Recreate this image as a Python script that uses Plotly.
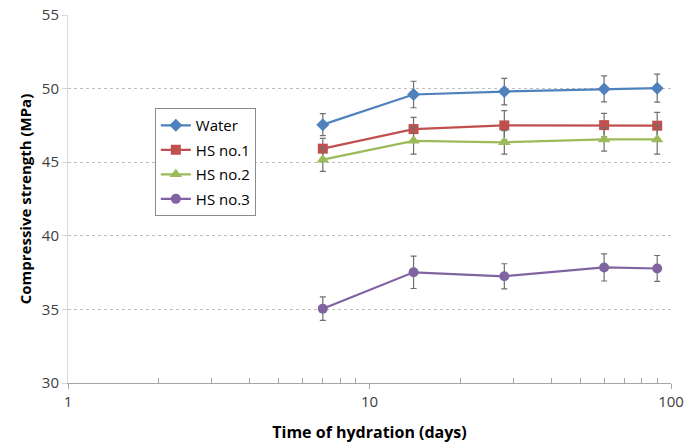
import plotly.graph_objects as go

days = [7, 14, 28, 60, 90]
water = [47.55, 49.6, 49.8, 49.98, 50.03]
hs1 = [45.92, 47.25, 47.5, 47.52, 47.48]
hs2 = [45.17, 46.45, 46.35, 46.55, 46.55]
hs3 = [35.05, 37.52, 37.25, 37.85, 37.78]
water_err = [0.75, 0.9, 0.9, 0.88, 0.95]
hs1_err = [0.7, 0.8, 1.0, 0.8, 0.9]
hs2_err = [0.8, 0.9, 0.8, 0.8, 1.0]
hs3_err = [0.8, 1.1, 0.85, 0.92, 0.88]

names = ["Water", "HS no.1", "HS no.2", "HS no.3"]
colors = ["#4f81bd", "#c0504d", "#9bbb59", "#8064a2"]
symbols = ["diamond", "square", "triangle-up", "circle"]
sizes = [10, 10, 11, 10]

fig = go.Figure()
for i, (vals, errs) in enumerate([(water, water_err), (hs1, hs1_err), (hs2, hs2_err), (hs3, hs3_err)]):
    fig.add_trace(go.Scatter(
        x=days, y=vals, name=names[i], mode="lines+markers",
        line=dict(color=colors[i], width=2.2),
        marker=dict(symbol=symbols[i], size=sizes[i], color=colors[i]),
        error_y=dict(type="data", array=errs, visible=True, color="#6f6f6f", thickness=1.2, width=3),
        legendgroup=names[i],
    ))

font_family = "Open Sans, Liberation Sans, sans-serif"

fig.update_layout(
    width=684, height=444,
    margin=dict(l=68, r=13, t=15, b=61),
    paper_bgcolor="white", plot_bgcolor="white",
    font=dict(family=font_family, size=15, color="#404040"),
    xaxis=dict(
        type="log", range=[0, 2], automargin=False,
        tickmode="array", tickvals=[1, 10, 100], ticktext=["1", "10", "100"],
        ticks="outside", ticklen=5, tickcolor="#a6a6a6",
        showline=True, linecolor="#a6a6a6", linewidth=1,
        showgrid=False, zeroline=False, ticklabeloverflow="allow",
        minor=dict(tickmode="array",
                   tickvals=[2, 3, 4, 5, 6, 7, 8, 9, 20, 30, 40, 50, 60, 70, 80, 90],
                   ticks="inside", ticklen=5, tickcolor="#a6a6a6", showgrid=False),
        title=dict(text="<b>Time of hydration (days)</b>", font=dict(size=16, color="#000000"), standoff=16),
        tickfont=dict(size=15, color="#404040"),
    ),
    yaxis=dict(
        range=[30, 55], tickmode="array", tickvals=[30, 35, 40, 45, 50, 55], automargin=False,
        ticks="outside", ticklen=5, tickcolor="#d9d9d9",
        showline=True, linecolor="#d9d9d9", linewidth=1,
        showgrid=True, gridcolor="#bfbfbf", griddash="dot", gridwidth=1,
        zeroline=False, ticklabeloverflow="allow",
        title=dict(text="<b>Compressive strength (MPa)</b>", font=dict(size=15, color="#000000"), standoff=6),
        tickfont=dict(size=15, color="#404040"),
    ),
    legend=dict(
        x=0.144, y=0.747, xanchor="left", yanchor="top",
        bordercolor="#8c8c8c", borderwidth=1, bgcolor="white",
        font=dict(size=15, color="#000000", family=font_family),
        tracegroupgap=2, traceorder="grouped",
        itemwidth=30,
    ),
    showlegend=True,
)

fig.write_html("out.html", config={"displayModeBar": False},
               post_script="document.body.style.margin='0px';")
